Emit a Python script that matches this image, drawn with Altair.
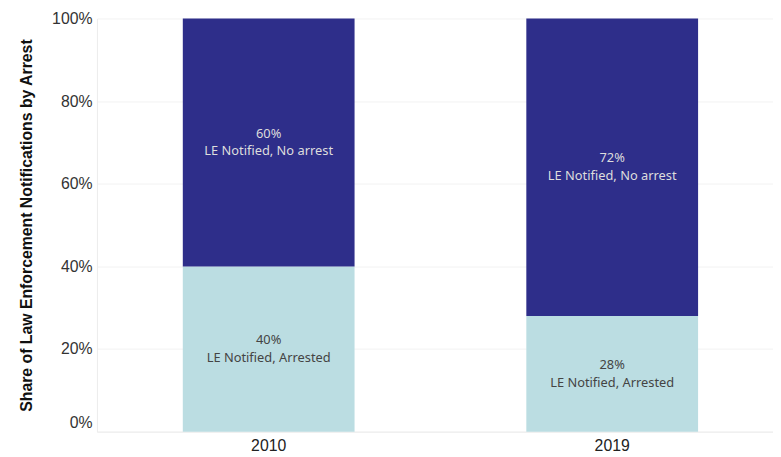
import altair as alt
import pandas as pd

years = ["2010", "2010", "2019", "2019"]
groups = ["LE Notified, Arrested", "LE Notified, No arrest",
          "LE Notified, Arrested", "LE Notified, No arrest"]
shares = [0.40, 0.60, 0.28, 0.72]
order = [0, 1, 0, 1]

df = pd.DataFrame({"year": years, "group": groups, "share": shares, "ord": order})
df["pct"] = (df["share"] * 100).round().astype(int).astype(str) + "%"
df["label"] = df["pct"] + "\n" + df["group"]

base = alt.Chart(df).encode(
    x=alt.X("year:N", title=None,
            scale=alt.Scale(paddingInner=0.5, paddingOuter=0.234, align=0.534),
            axis=alt.Axis(labelAngle=0, labelFont="Liberation Sans", labelFontSize=16,
                          labelColor="#222", ticks=False, labelPadding=6,
                          domainColor="#ececec", grid=False)),
    y=alt.Y("share:Q", stack="zero", title="Share of Law Enforcement Notifications by Arrest",
            scale=alt.Scale(domain=[0, 1]),
            axis=alt.Axis(format="%", values=[0, 0.2, 0.4, 0.6, 0.8, 1.0],
                          labelFont="Liberation Sans", labelFontSize=16, labelColor="#333",
                          labelBaseline={"condition": {"test": "datum.value === 0", "value": "bottom"},
                                         "value": "middle"},
                          labelOffset={"condition": {"test": "datum.value === 0", "value": -1},
                                       "value": 0},
                          ticks=False, labelPadding=5, gridColor="#f2f2f2",
                          domainColor="#ececec", titleFont="Liberation Sans",
                          titleFontSize=16, titleFontWeight="bold", titleColor="#111",
                          titlePadding=17)),
    order=alt.Order("ord:Q"),
)

bars = base.mark_bar().encode(
    color=alt.Color("group:N", legend=None,
                    scale=alt.Scale(domain=["LE Notified, Arrested", "LE Notified, No arrest"],
                                    range=["#bbdde2", "#2e2e8a"])),
)

text = base.mark_text(font="Noto Sans", fontSize=13, lineBreak="\n", lineHeight=18,
                      baseline="middle", dy=-9).encode(
    y=alt.Y("mid:Q"),
    text="label:N",
    color=alt.Color("group:N", legend=None,
                    scale=alt.Scale(domain=["LE Notified, Arrested", "LE Notified, No arrest"],
                                    range=["#444444", "#dddddd"])),
).transform_stack(
    stack="share", groupby=["year"], as_=["lo", "hi"], sort=[alt.SortField("ord")]
).transform_calculate(mid="(datum.lo + datum.hi) / 2")

chart = alt.layer(bars, text).resolve_scale(color="independent").properties(
    width=684, height=418,
    padding={"left": 11, "top": 0, "right": 0, "bottom": 0},
).configure_view(stroke=None)

chart.save("out.html", embed_options={"renderer": "svg", "actions": False})
